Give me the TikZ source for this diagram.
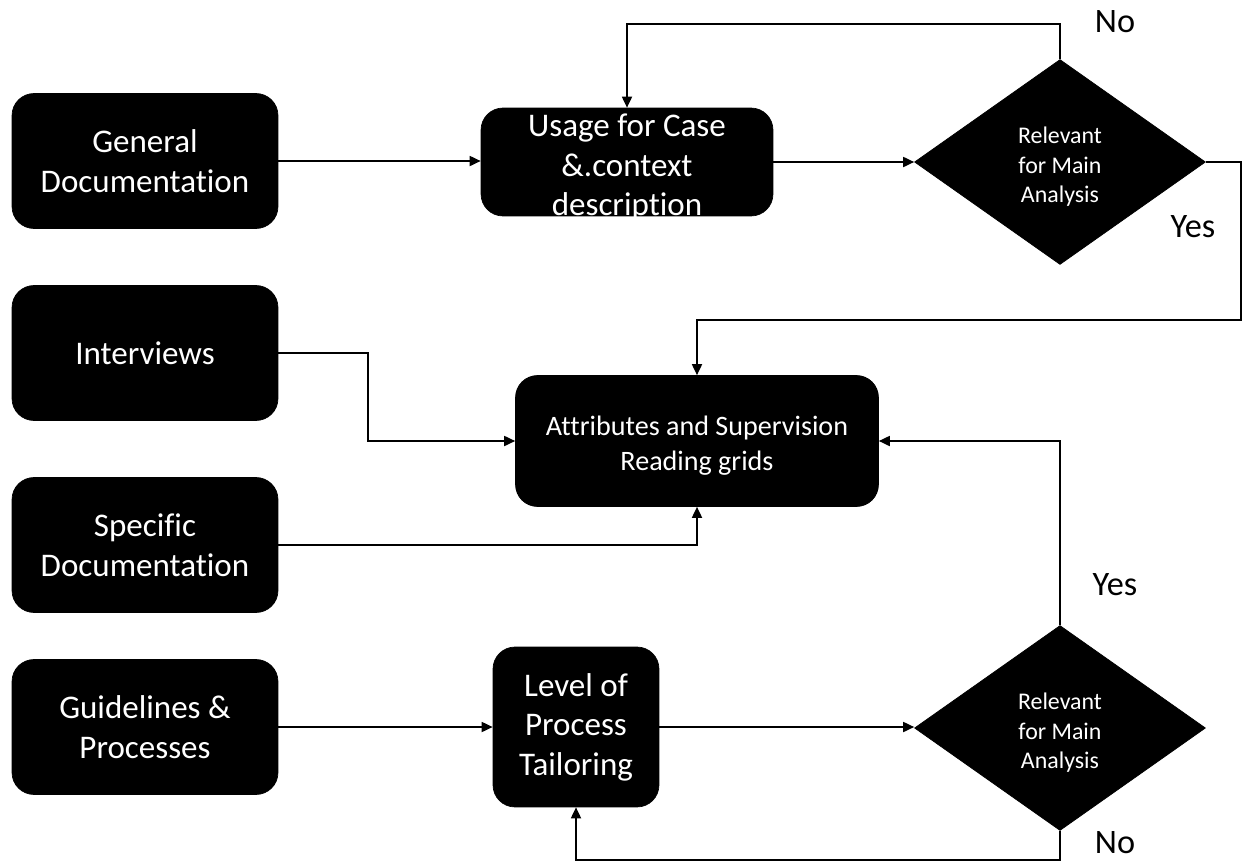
\documentclass[tikz,border=0pt]{standalone}
\usepackage{fontspec}
\setmainfont{Carlito}[Ligatures=NoCommon]
\usetikzlibrary{arrows.meta,shapes.geometric,calc}
% centred multi-line text with no height of its own, set slightly below the node centre
\newcommand{\lowtext}[1]{\raisebox{\dimexpr-0.27em-0.1cm\relax}[0pt][0pt]{\begin{tabular}{@{}c@{}}#1\end{tabular}}}
\begin{document}
\begin{tikzpicture}[x=0.02cm,y=-0.02cm,
  box/.style={draw=black,fill=black,rounded corners=0.44cm,text=white,align=center,
    inner sep=2pt,font=\fontsize{18.8}{22.5}\selectfont},
  decision/.style={diamond,draw=black,fill=black,text=white,align=center,inner sep=0pt,
    minimum width=5.82cm,minimum height=4.1cm,font=\fontsize{13.6}{16.8}\selectfont},
  answer/.style={font=\fontsize{19.5}{23}\selectfont},
  arr/.style={-{Triangle[length=0.22cm,width=0.2cm]},line width=1pt}]
\useasboundingbox (0,0) rectangle (1242,866);

% source documents on the left
\node[box,minimum width=5.32cm,minimum height=2.7cm] (gen) at (145,161) {General\\Documentation};
\node[box,minimum width=5.32cm,minimum height=2.7cm] (int) at (145,353) {Interviews};
\node[box,minimum width=5.32cm,minimum height=2.7cm] (spec) at (145,545) {Specific\\Documentation};
\node[box,minimum width=5.32cm,minimum height=2.7cm] (guide) at (145,727) {Guidelines \&\\Processes};

% processing steps
\node[box,minimum width=5.84cm,minimum height=2.16cm] (use) at (627,162) {\lowtext{Usage for Case\\\&.context\\description}};
\node[box,minimum width=7.26cm,minimum height=2.62cm,font=\fontsize{16}{19.8}\selectfont] (att) at (697,441) {\lowtext{Attributes and Supervision\\Reading grids}};
\node[box,minimum width=3.32cm,minimum height=3.2cm] (lev) at (576,727) {Level of\\Process\\Tailoring};

% decisions
\node[decision] (d1) at (1060,162) {\lowtext{Relevant\\for Main\\Analysis}};
\node[decision] (d2) at (1060,728) {\lowtext{Relevant\\for Main\\Analysis}};

% routing points
\coordinate (t1) at (1060,24);
\coordinate (r1) at (1241,162);
\coordinate (r2) at (1241,320);
\coordinate (k1) at (368,441);
\coordinate (b1) at (1060,860);

% connectors
\draw[arr] (gen.east) -- (gen.east -| use.west);
\draw[arr] (use.east) -- (d1.west);
\draw[arr] (d1.north) -- (t1) -| (use.north);
\draw[arr] (d1.east) -- (r1) -- (r2) -| (att.north);
\draw[arr] (int.east) -| (k1) -- (att.west);
\draw[arr] (spec.east) -| (att.south);
\draw[arr] (d2.north) |- (att.east);
\draw[arr] (guide.east) -- (lev.west);
\draw[arr] (lev.east) -- (lev.east -| d2.west);
\draw[arr] (d2.south) -- (b1) -| (lev.south);

% answer labels
\node[answer] (no1) at (1115,22) {No};
\node[answer] (yes1) at (1193,227) {Yes};
\node[answer] (yes2) at (1115,585) {Yes};
\node[answer] (no2) at (1115,843) {No};
\end{tikzpicture}
\end{document}
